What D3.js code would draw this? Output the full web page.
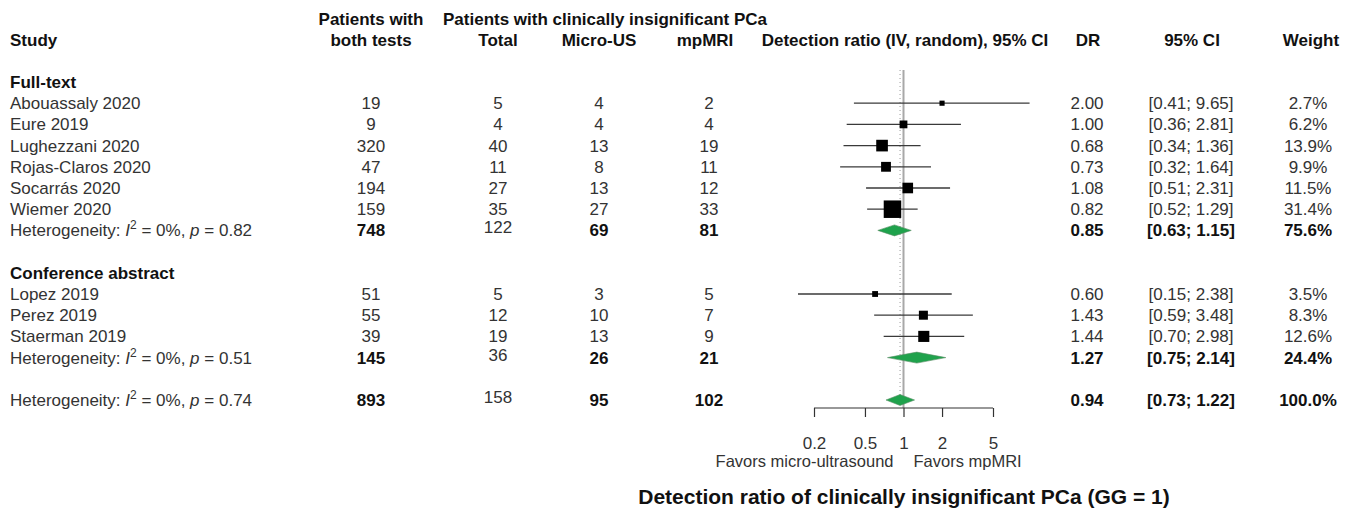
<!DOCTYPE html>
<html>
<head>
<meta charset="utf-8">
<script src="https://cdn.jsdelivr.net/npm/d3@7"></script>
<style>
  body { margin: 0; background: #fff; }
  svg text { font-family: "Liberation Sans", Arial, sans-serif; }
</style>
</head>
<body>
<script>
// studies
const studyNames = ["Abouassaly 2020", "Eure 2019", "Lughezzani 2020", "Rojas-Claros 2020",
  "Socarrás 2020", "Wiemer 2020", "Lopez 2019", "Perez 2019", "Staerman 2019"];
const studyGroup = [0, 0, 0, 0, 0, 0, 1, 1, 1];
const bothTests = [19, 9, 320, 47, 194, 159, 51, 55, 39];
const totalPts = [5, 4, 40, 11, 27, 35, 5, 12, 19];
const microUS = [4, 4, 13, 8, 13, 27, 3, 10, 13];
const mpMRI = [2, 4, 19, 11, 12, 33, 5, 7, 9];
const dr = [2.00, 1.00, 0.68, 0.73, 1.08, 0.82, 0.60, 1.43, 1.44];
const ciLow = [0.41, 0.36, 0.34, 0.32, 0.51, 0.52, 0.15, 0.59, 0.70];
const ciHigh = [9.65, 2.81, 1.36, 1.64, 2.31, 1.29, 2.38, 3.48, 2.98];
const weights = [2.7, 6.2, 13.9, 9.9, 11.5, 31.4, 3.5, 8.3, 12.6];

// subgroups + overall
const groupNames = ["Full-text", "Conference abstract"];
const sumP = ["0.82", "0.51", "0.74"];
const sumBoth = [748, 145, 893];
const sumTotal = [122, 36, 158];
const sumMicro = [69, 26, 95];
const sumMri = [81, 21, 102];
const sumDr = [0.85, 1.27, 0.94];
const sumLow = [0.63, 0.75, 0.73];
const sumHigh = [1.15, 2.14, 1.22];
const sumWeight = [75.6, 24.4, 100.0];

const tickValues = [0.2, 0.5, 1, 2, 5];

const w = 1355,
  h = 512,
  fs = 17,
  rowH = 21.2,
  rowTop = 82;

const col = { study: 10, both: 371, total: 498, micro: 599, mri: 709, dr: 1087, ci: 1191, weight: 1308 };

const f2 = d3.format(".2f"),
  f1 = d3.format(".1f");

const x = d3.scaleLog().domain([0.2, 5]).range([814, 993]);
const size = d3.scaleSqrt().domain([0, 31.4]).range([0, 17.5]);

// rows: type, index into arrays
const rows = [];
groupNames.forEach((g, gi) => {
  rows.push({ type: "group", label: g });
  studyNames.forEach((s, i) => {
    if (studyGroup[i] === gi) rows.push({ type: "study", i });
  });
  rows.push({ type: "sum", i: gi });
  rows.push({ type: "blank" });
});
rows.push({ type: "sum", i: 2 });
rows.forEach((r, k) => (r.y = rowTop + k * rowH));

const yScale = d3.scaleLinear().domain([0, 1]).range([rowTop, rowTop + rowH]);

const svg = d3.select("body").append("svg").attr("width", w).attr("height", h);

// header
const head = svg.append("g").attr("font-weight", "bold").attr("font-size", fs).attr("fill", "#111");
head.append("text").attr("x", col.both).attr("y", 25).attr("text-anchor", "middle").text("Patients with");
head.append("text").attr("x", 443).attr("y", 25).text("Patients with clinically insignificant PCa");
[
  [col.study, "Study", "start"],
  [col.both, "both tests", "middle"],
  [col.total, "Total", "middle"],
  [col.micro, "Micro-US", "middle"],
  [705, "mpMRI", "middle"],
  [905, "Detection ratio (IV, random), 95% CI", "middle"],
  [col.dr + 1, "DR", "middle"],
  [col.ci + 1, "95% CI", "middle"],
  [col.weight + 3, "Weight", "middle"]
].forEach(([cx, t, a]) => {
  head.append("text").attr("x", cx).attr("y", 46).attr("text-anchor", a).text(t);
});

// reference lines
const plotTop = 70,
  axisY = 408;
svg.append("line")
  .attr("x1", x(1)).attr("x2", x(1))
  .attr("y1", plotTop).attr("y2", axisY)
  .attr("stroke", "#a8a8a8").attr("stroke-width", 2);
svg.append("line")
  .attr("x1", x(sumDr[2])).attr("x2", x(sumDr[2]))
  .attr("y1", plotTop).attr("y2", axisY - 8)
  .attr("stroke", "#999").attr("stroke-width", 1)
  .attr("stroke-dasharray", "1,3");

const body = svg.append("g").attr("font-size", fs);

function cell(y, cx, t, bold, dy) {
  body.append("text")
    .attr("x", cx).attr("y", y + 6 + (dy || 0))
    .attr("text-anchor", "middle")
    .attr("font-weight", bold ? "bold" : null)
    .attr("fill", bold ? "#111" : "#333")
    .text(t);
}

rows.forEach(r => {
  if (r.type === "group") {
    body.append("text").attr("x", col.study).attr("y", r.y + 6)
      .attr("font-weight", "bold").attr("fill", "#111").text(r.label);
  } else if (r.type === "study") {
    const i = r.i;
    body.append("text").attr("x", col.study).attr("y", r.y + 6).attr("fill", "#333").text(studyNames[i]);
    cell(r.y, col.both, bothTests[i]);
    cell(r.y, col.total, totalPts[i]);
    cell(r.y, col.micro, microUS[i]);
    cell(r.y, col.mri, mpMRI[i]);
    cell(r.y, col.dr, f2(dr[i]));
    cell(r.y, col.ci, `[${f2(ciLow[i])}; ${f2(ciHigh[i])}]`);
    cell(r.y, col.weight, f1(weights[i]) + "%");

    body.append("line")
      .attr("x1", x(ciLow[i])).attr("x2", x(ciHigh[i]))
      .attr("y1", r.y).attr("y2", r.y)
      .attr("stroke", "#3a3a3a").attr("stroke-width", 1.3);
    const s = size(weights[i]);
    body.append("rect")
      .attr("x", x(dr[i]) - s / 2).attr("y", r.y - s / 2)
      .attr("width", s).attr("height", s)
      .attr("fill", "#000");
  } else if (r.type === "sum") {
    const i = r.i;
    const t = body.append("text").attr("x", col.study).attr("y", r.y + 6).attr("fill", "#333");
    t.append("tspan").text("Heterogeneity: ");
    t.append("tspan").attr("font-style", "italic").text("I");
    t.append("tspan").attr("font-size", 12).attr("dy", -7).text("2");
    t.append("tspan").attr("dy", 7).text(" = 0%, ");
    t.append("tspan").attr("font-style", "italic").text("p");
    t.append("tspan").text(" = " + sumP[i]);

    cell(r.y, col.both, sumBoth[i], true);
    cell(r.y, col.total, sumTotal[i], false, -3);
    cell(r.y, col.micro, sumMicro[i], true);
    cell(r.y, col.mri, sumMri[i], true);
    cell(r.y, col.dr, f2(sumDr[i]), true);
    cell(r.y, col.ci, `[${f2(sumLow[i])}; ${f2(sumHigh[i])}]`, true);
    cell(r.y, col.weight, f1(sumWeight[i]) + "%", true);

    const hh = 5.5;
    body.append("path")
      .attr("d", `M${x(sumLow[i])},${r.y} L${x(sumDr[i])},${r.y - hh} L${x(sumHigh[i])},${r.y} L${x(sumDr[i])},${r.y + hh} Z`)
      .attr("fill", "#1fa24c")
      .attr("stroke", "#5a8f66").attr("stroke-width", 0.6);
  }
});

// x axis
const axis = svg.append("g")
  .attr("transform", `translate(0,${axisY})`)
  .call(d3.axisBottom(x).tickValues(tickValues).tickFormat(d3.format("")).tickSize(9).tickPadding(20));
axis.select(".domain").attr("stroke", "#333").attr("stroke-width", 1.2).attr("d", `M${x(0.2)},0H${x(5)}`);
axis.selectAll(".tick line").attr("stroke", "#333").attr("stroke-width", 1.2);
axis.selectAll(".tick text")
  .attr("font-size", fs).attr("fill", "#333")
  .attr("font-family", "'Liberation Sans', Arial, sans-serif");

svg.append("text")
  .attr("x", x(1) - 10).attr("y", 467)
  .attr("text-anchor", "end").attr("font-size", 16.5).attr("fill", "#333")
  .text("Favors micro-ultrasound");
svg.append("text")
  .attr("x", x(1) + 10).attr("y", 467)
  .attr("font-size", 16.5).attr("fill", "#333")
  .text("Favors mpMRI");

// title
svg.append("text")
  .attr("x", 904).attr("y", 504)
  .attr("text-anchor", "middle")
  .attr("font-size", 21).attr("font-weight", "bold").attr("fill", "#111")
  .text("Detection ratio of clinically insignificant PCa (GG = 1)");
</script>
</body>
</html>
